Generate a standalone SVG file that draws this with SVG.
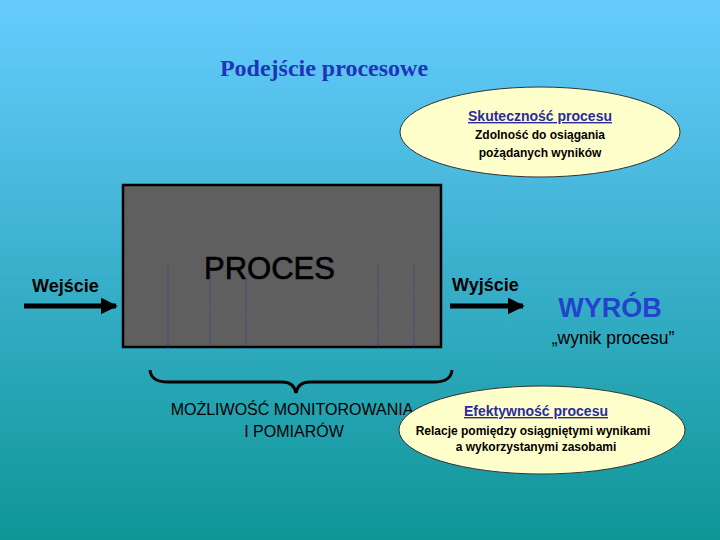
<svg xmlns="http://www.w3.org/2000/svg" width="720" height="540" viewBox="0 0 720 540">
<defs>
<linearGradient id="bg" x1="0" y1="0" x2="0" y2="1">
<stop offset="0" stop-color="#66CCFF"/>
<stop offset="0.5" stop-color="#3AB0CC"/>
<stop offset="1" stop-color="#0E9696"/>
</linearGradient>
<marker id="ah" viewBox="0 0 10 10" refX="9" refY="5" markerWidth="3.4" markerHeight="3.4" orient="auto" markerUnits="strokeWidth">
<path d="M0,0 L10,5 L0,10 Z" fill="#000"/>
</marker>
<style>
.sans{font-family:"Liberation Sans",Arial,sans-serif}
.lbl{font-family:"Liberation Sans",Arial,sans-serif;font-weight:bold;font-size:18px;fill:#000}
.ell{fill:#FFFFCC;stroke:#333;stroke-width:1}
.head{font-family:"Liberation Sans",Arial,sans-serif;font-weight:bold;font-size:14px;fill:#2B2B9E;text-decoration:underline;text-anchor:middle}
.body{font-family:"Liberation Sans",Arial,sans-serif;font-weight:bold;font-size:12px;fill:#000;text-anchor:middle}
.dot{stroke:#333399;stroke-width:1;stroke-dasharray:1 1.5}
.arr{stroke:#000;stroke-width:5;fill:none;marker-end:url(#ah)}
</style>
</defs>
<rect width="720" height="540" fill="url(#bg)"/>
<text x="324" y="76" text-anchor="middle" font-family="'Liberation Serif','Times New Roman',serif" font-weight="bold" font-size="24" fill="#2233BB">Podejście procesowe</text>

<g id="proces">
<rect x="123" y="185" width="318" height="162" fill="#5F5F5F" stroke="#000" stroke-width="2.5"/>
<text x="204" y="279" class="sans" font-size="31" fill="#000" stroke="#000" stroke-width="0.6" textLength="131" lengthAdjust="spacingAndGlyphs">PROCES</text>
<line class="dot" x1="168" y1="264" x2="168" y2="348"/>
<line class="dot" x1="210" y1="270" x2="210" y2="348"/>
<line class="dot" x1="246" y1="278" x2="246" y2="348"/>
<line class="dot" x1="378" y1="264" x2="378" y2="348"/>
<line class="dot" x1="414" y1="264" x2="414" y2="348"/>
</g>

<g id="wejscie">
<text x="32" y="292" class="lbl">Wejście</text>
</g>
<g id="wyjscie">
<text x="452" y="291" class="lbl">Wyjście</text>
</g>

<g id="connectors">
<line class="arr" x1="24" y1="306" x2="116" y2="306"/>
<line class="arr" x1="450" y1="306" x2="523" y2="306"/>
<path d="M150,370 Q151,382 168,382 L282,382 Q294,382 296,393 Q298,382 310,382 L434,382 Q451,382 452,370" fill="none" stroke="#000" stroke-width="3"/>
</g>

<g id="wyrob">
<text x="610" y="317" text-anchor="middle" class="sans" font-weight="bold" font-size="27" fill="#2244CC">WYRÓB</text>
<text x="613" y="344" text-anchor="middle" class="sans" font-size="17.5" fill="#000">„wynik procesu”</text>
</g>

<g id="monitorowanie">
<text x="292" y="415" text-anchor="middle" class="sans" font-size="16" fill="#000">MOŻLIWOŚĆ MONITOROWANIA</text>
<text x="294" y="437" text-anchor="middle" class="sans" font-size="16" fill="#000">I POMIARÓW</text>
</g>

<g id="skutecznosc">
<ellipse class="ell" cx="540" cy="132" rx="140" ry="45"/>
<text x="540" y="121" class="head">Skuteczność procesu</text>
<text x="540" y="139" class="body">Zdolność do osiągania</text>
<text x="540" y="157" class="body">pożądanych wyników</text>
</g>

<g id="efektywnosc">
<ellipse class="ell" cx="542" cy="430" rx="143" ry="44"/>
<text x="536" y="416" class="head">Efektywność procesu</text>
<text x="533" y="435" class="body">Relacje pomiędzy osiągniętymi wynikami</text>
<text x="536" y="451" class="body">a wykorzystanymi zasobami</text>
</g>
</svg>
